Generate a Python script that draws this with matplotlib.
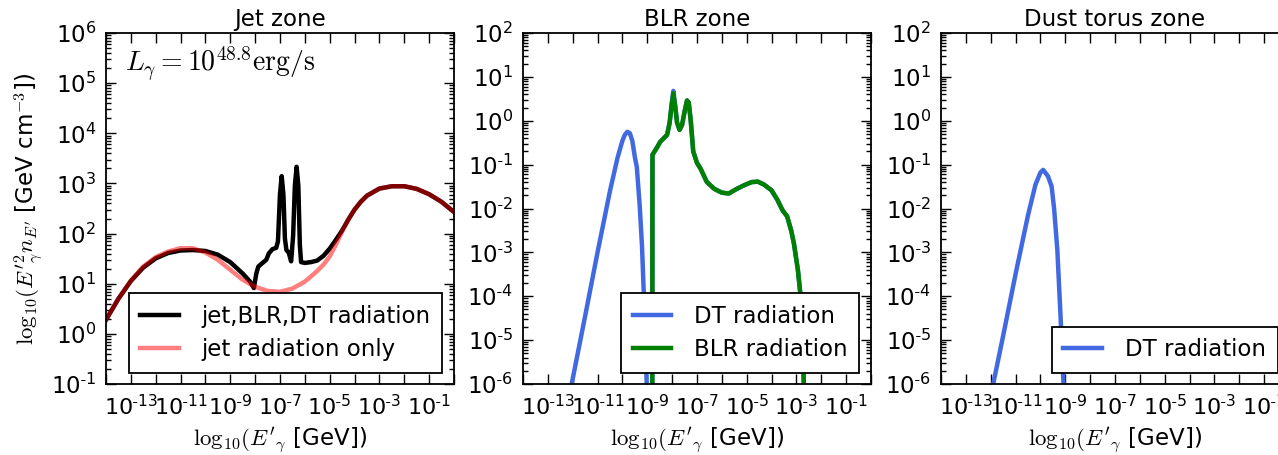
import matplotlib
matplotlib.use("Agg")
import matplotlib.pyplot as plt
import matplotlib.ticker as mticker
import numpy as np

plt.rcParams['font.family'] = ['DejaVu Sans']
plt.rcParams['mathtext.fontset'] = 'cm'
plt.rcParams['font.size'] = 16.5

# ---- Jet zone: log10(E) and E^2 n_E [GeV cm^-3]
jet_all_logE = [-14.0, -13.5, -13.0, -12.5, -12.0, -11.5, -11.0, -10.5, -10.0, -9.5,
                -9.0, -8.5, -8.2, -8.05, -7.95, -7.87, -7.7, -7.55, -7.45, -7.3,
                -7.15, -7.08, -7.0, -6.93, -6.86, -6.8, -6.74, -6.65, -6.55, -6.47,
                -6.4, -6.33, -6.26, -6.2, -6.15, -6.0, -5.75, -5.5, -5.25, -5.0,
                -4.75, -4.5, -4.25, -4.0, -3.75, -3.5, -3.0, -2.5, -2.0, -1.5,
                -1.0, -0.5, 0.0]
jet_all_val = [1.9, 5.0, 11.3, 21, 32, 41, 46, 47, 45, 38,
               27, 16, 11, 8.2, 16, 22, 26, 30, 40, 49,
               52, 70, 600, 1400, 600, 80, 47, 42, 28, 90,
               900, 2150, 900, 60, 27, 26, 27, 29, 36, 50,
               75, 115, 190, 300, 430, 570, 790, 880, 880, 780,
               610, 430, 270]

jet_only_logE = [-14.0, -13.5, -13.0, -12.5, -12.0, -11.5, -11.0, -10.5, -10.0, -9.5,
                 -9.0, -8.5, -8.0, -7.5, -7.0, -6.5, -6.0, -5.75, -5.5, -5.25,
                 -5.0, -4.75, -4.5, -4.25, -4.0, -3.75, -3.5, -3.0, -2.5, -2.0,
                 -1.5, -1.0, -0.5, 0.0]
jet_only_val = [1.9, 5.0, 11.5, 22, 34, 44, 51, 51, 42, 30,
                19, 12, 8.7, 7.2, 6.9, 8.0, 11, 14, 18, 24,
                35, 60, 110, 190, 300, 430, 570, 790, 880, 880,
                780, 610, 430, 270]

# ---- BLR zone
blr_dt_logE = [-12.2, -11.5, -11.0, -10.5, -10.2, -10.0, -9.9, -9.8, -9.7, -9.6,
               -9.5, -9.42, -9.3, -9.21, -9.12, -9.04, -8.98, -8.8, -8.79, -8.6,
               -8.48, -8.3, -8.2, -8.1, -8.02, -7.95, -7.88, -7.8, -7.7, -7.6,
               -7.5, -7.4, -7.33, -7.25, -7.15, -7.0, -6.85, -6.6, -6.3, -6.0,
               -5.72, -5.4, -5.1, -4.8, -4.55, -4.3, -4.0, -3.77, -3.55, -3.37,
               -3.2, -3.1, -2.94, -2.83, -2.76, -2.7, -2.62]
blr_dt_val = [3.5e-7, 3.5e-5, 1e-3, 0.025, 0.14, 0.35, 0.48, 0.56, 0.52, 0.35,
              0.15, 0.089, 0.011, 1.35e-3, 6e-5, 2.5e-6, 1e-7, 1e-8, 0.17, 0.25,
              0.33, 0.42, 0.48, 0.9, 2.4, 4.8, 2.3, 0.9, 0.62, 0.8,
              1.6, 2.9, 2.6, 1.0, 0.2, 0.11, 0.08, 0.04, 0.028, 0.023,
              0.022, 0.028, 0.034, 0.040, 0.041, 0.035, 0.026, 0.016, 0.009, 0.0066,
              0.003, 0.0016, 4e-4, 1e-4, 1e-5, 1e-6, 1e-7]

blr_blr_logE = [-8.8, -8.79, -8.6, -8.48, -8.3, -8.2, -8.1, -8.02, -7.95, -7.88,
                -7.8, -7.7, -7.6, -7.5, -7.4, -7.33, -7.25, -7.15, -7.0, -6.85,
                -6.6, -6.3, -6.0, -5.72, -5.4, -5.1, -4.8, -4.55, -4.3, -4.0,
                -3.77, -3.55, -3.37, -3.2, -3.1, -2.94, -2.83, -2.76, -2.7, -2.62]
blr_blr_val = [1e-8, 0.166, 0.25, 0.33, 0.42, 0.48, 0.9, 2.2, 4.2, 2.2,
               0.9, 0.62, 0.8, 1.6, 2.9, 2.6, 1.0, 0.2, 0.11, 0.08,
               0.04, 0.028, 0.023, 0.022, 0.028, 0.034, 0.040, 0.041, 0.035, 0.026,
               0.016, 0.009, 0.0066, 0.003, 0.0016, 4e-4, 1e-4, 1e-5, 1e-6, 1e-7]

# ---- Dust torus zone
dt_logE = [-12.0, -11.9, -11.5, -11.0, -10.5, -10.2, -10.0, -9.89, -9.7, -9.55,
           -9.45, -9.32, -9.19, -9.08, -9.0]
dt_val = [5e-7, 1e-6, 1.25e-5, 3.2e-4, 7e-3, 0.035, 0.066, 0.076, 0.055, 0.032,
          0.01, 1.15e-3, 3.5e-5, 1.3e-6, 1e-7]

x_exps = list(range(-14, 1))
x_label_exps = [-13, -11, -9, -7, -5, -3, -1]


def fmt_x(val, pos):
    e = int(round(np.log10(val)))
    if e not in x_label_exps:
        return ''
    return r'$\mathdefault{10^{\text{-}%d}}$' % (-e)


def fmt_y(val, pos):
    e = int(round(np.log10(val)))
    if e < 0:
        return r'$\mathdefault{10^{\text{-}%d}}$' % (-e)
    return r'$\mathdefault{10^{%d}}$' % e


def style(ax, ylo, yhi):
    ax.set_xscale('log')
    ax.set_yscale('log')
    ax.set_xlim(1e-14, 1)
    ax.set_ylim(ylo, yhi)
    ax.xaxis.set_major_locator(mticker.FixedLocator([10.0 ** e for e in x_exps]))
    ax.xaxis.set_minor_locator(mticker.NullLocator())
    ax.xaxis.set_major_formatter(mticker.FuncFormatter(fmt_x))
    ax.yaxis.set_major_locator(mticker.LogLocator(base=10, numticks=30))
    ax.yaxis.set_minor_locator(mticker.LogLocator(base=10, subs=np.arange(2, 10), numticks=30))
    ax.yaxis.set_minor_formatter(mticker.NullFormatter())
    ax.yaxis.set_major_formatter(mticker.FuncFormatter(fmt_y))
    ax.tick_params(which='both', direction='in', top=True, right=True)
    ax.tick_params(axis='y', labelsize=16.5)
    ax.tick_params(axis='x', labelsize=16)
    ax.tick_params(which='major', length=7, width=1, pad=7)
    ax.tick_params(which='minor', length=3.5, width=1)
    for s in ax.spines.values():
        s.set_linewidth(1.3)
    ax.set_xlabel(r"$\mathrm{log}_{10}(E'{}_\gamma$ [GeV])", fontsize=16.5, labelpad=5)


def add_legend(ax):
    leg = ax.legend(loc='lower right', fontsize=16.5, fancybox=False, framealpha=1,
                    edgecolor='black', handlelength=1.7, handletextpad=1.0,
                    borderpad=0.5, labelspacing=0.45)
    leg.get_frame().set_linewidth(1.3)


fig = plt.figure(figsize=(12.78, 4.55), dpi=100)
ax1 = fig.add_axes([0.0829, 0.156, 0.2723, 0.7714])
ax2 = fig.add_axes([0.4092, 0.156, 0.2723, 0.7714])
ax3 = fig.add_axes([0.7363, 0.156, 0.2723, 0.7714])

# Jet zone
ax1.plot(10.0 ** np.array(jet_all_logE), jet_all_val, color='black', lw=3.2,
         label='jet,BLR,DT radiation')
ax1.plot(10.0 ** np.array(jet_only_logE), jet_only_val, color='red', lw=3.2, alpha=0.5,
         label='jet radiation only')
style(ax1, 1e-1, 1e6)
ax1.set_title('Jet zone', fontsize=16.5, pad=5)
ax1.text(0.055, 0.965, r'$L_\gamma = 10^{48.8}\mathrm{erg/s}$', transform=ax1.transAxes,
         fontsize=20, va='top', ha='left')
ax1.set_ylabel(r"$\mathrm{log}_{10}(E'^{2}_{\gamma}n_{E'}$ [GeV cm$^{-3}$])",
               fontsize=16.5, labelpad=4)
add_legend(ax1)

# BLR zone
ax2.plot(10.0 ** np.array(blr_dt_logE), blr_dt_val, color='royalblue', lw=3.2,
         label='DT radiation')
ax2.plot(10.0 ** np.array(blr_blr_logE), blr_blr_val, color='green', lw=3.2,
         label='BLR radiation')
style(ax2, 1e-6, 1e2)
ax2.set_title('BLR zone', fontsize=16.5, pad=5)
add_legend(ax2)

# Dust torus zone
ax3.plot(10.0 ** np.array(dt_logE), dt_val, color='royalblue', lw=3.2, label='DT radiation')
style(ax3, 1e-6, 1e2)
ax3.set_title('Dust torus zone', fontsize=16.5, pad=5)
add_legend(ax3)

fig.savefig('out.png', dpi=100)
